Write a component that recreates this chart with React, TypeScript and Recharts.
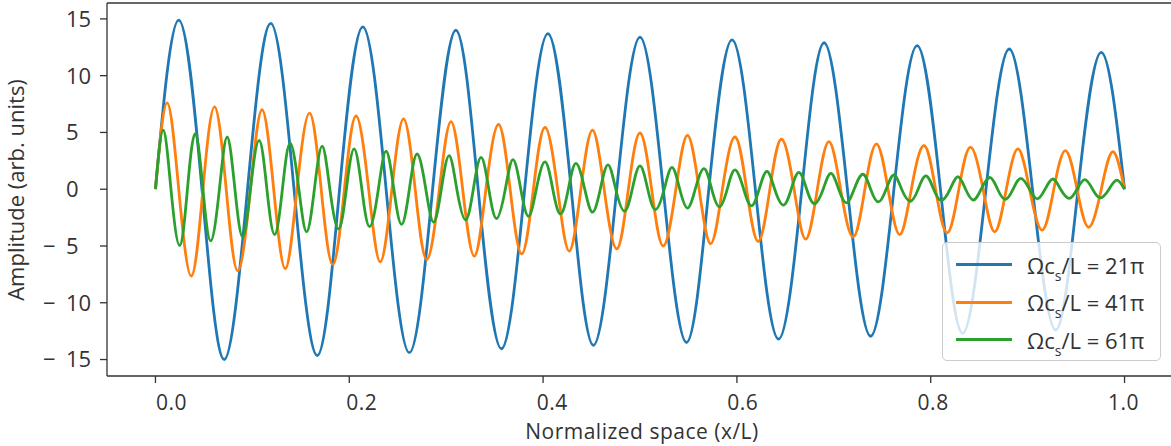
import React from 'react';
import { LineChart, Line, XAxis, YAxis, Legend, Label, ReferenceLine } from 'recharts';

// Samples at each zero crossing and each peak/trough.
const blueX = [
  0, 0.024, 0.048, 0.071, 0.095, 0.119, 0.143, 0.167, 0.190, 0.214,
  0.238, 0.262, 0.286, 0.310, 0.333, 0.357, 0.381, 0.405, 0.429, 0.452,
  0.476, 0.500, 0.524, 0.548, 0.571, 0.595, 0.619, 0.643, 0.667, 0.690,
  0.714, 0.738, 0.762, 0.786, 0.810, 0.833, 0.857, 0.881, 0.905, 0.929,
  0.952, 0.976, 1,
];
const blueY = [
  0, 14.9, 0, -15.0, 0, 14.6, 0, -14.65, 0, 14.3,
  0, -14.4, 0, 14.0, 0, -14.05, 0, 13.7, 0, -13.75,
  0, 13.4, 0, -13.5, 0, 13.15, 0, -13.2, 0, 12.9,
  0, -12.95, 0, 12.65, 0, -12.7, 0, 12.35, 0, -12.4,
  0, 12.05, 0,
];

const orangeX = [
  0, 0.012, 0.024, 0.037, 0.049, 0.061, 0.073, 0.085, 0.098, 0.110,
  0.122, 0.134, 0.146, 0.159, 0.171, 0.183, 0.195, 0.207, 0.220, 0.232,
  0.244, 0.256, 0.268, 0.280, 0.293, 0.305, 0.317, 0.329, 0.341, 0.354,
  0.366, 0.378, 0.390, 0.402, 0.415, 0.427, 0.439, 0.451, 0.463, 0.476,
  0.488, 0.500, 0.512, 0.524, 0.537, 0.549, 0.561, 0.573, 0.585, 0.598,
  0.610, 0.622, 0.634, 0.646, 0.659, 0.671, 0.683, 0.695, 0.707, 0.720,
  0.732, 0.744, 0.756, 0.768, 0.780, 0.793, 0.805, 0.817, 0.829, 0.841,
  0.854, 0.866, 0.878, 0.890, 0.902, 0.915, 0.927, 0.939, 0.951, 0.963,
  0.976, 0.988, 1,
];
const orangeY = [
  0, 7.6, 0, -7.65, 0, 7.25, 0, -7.2, 0, 7.0,
  0, -7.0, 0, 6.7, 0, -6.65, 0, 6.45, 0, -6.4,
  0, 6.2, 0, -6.2, 0, 5.95, 0, -5.9, 0, 5.7,
  0, -5.7, 0, 5.45, 0, -5.45, 0, 5.2, 0, -5.25,
  0, 4.95, 0, -5.0, 0, 4.75, 0, -4.8, 0, 4.6,
  0, -4.6, 0, 4.4, 0, -4.4, 0, 4.2, 0, -4.2,
  0, 4.0, 0, -4.0, 0, 3.85, 0, -3.85, 0, 3.7,
  0, -3.75, 0, 3.55, 0, -3.6, 0, 3.4, 0, -3.35,
  0, 3.3, 0,
];

const greenX = [
  0, 0.008, 0.016, 0.025, 0.033, 0.041, 0.049, 0.057, 0.066, 0.074,
  0.082, 0.090, 0.098, 0.107, 0.115, 0.123, 0.131, 0.139, 0.148, 0.156,
  0.164, 0.172, 0.180, 0.189, 0.197, 0.205, 0.213, 0.221, 0.230, 0.238,
  0.246, 0.254, 0.262, 0.270, 0.279, 0.287, 0.295, 0.303, 0.311, 0.320,
  0.328, 0.336, 0.344, 0.352, 0.361, 0.369, 0.377, 0.385, 0.393, 0.402,
  0.410, 0.418, 0.426, 0.434, 0.443, 0.451, 0.459, 0.467, 0.475, 0.484,
  0.492, 0.500, 0.508, 0.516, 0.525, 0.533, 0.541, 0.549, 0.557, 0.566,
  0.574, 0.582, 0.590, 0.598, 0.607, 0.615, 0.623, 0.631, 0.639, 0.648,
  0.656, 0.664, 0.672, 0.680, 0.689, 0.697, 0.705, 0.713, 0.721, 0.730,
  0.738, 0.746, 0.754, 0.762, 0.770, 0.779, 0.787, 0.795, 0.803, 0.811,
  0.820, 0.828, 0.836, 0.844, 0.852, 0.861, 0.869, 0.877, 0.885, 0.893,
  0.902, 0.910, 0.918, 0.926, 0.934, 0.943, 0.951, 0.959, 0.967, 0.975,
  0.984, 0.992, 1,
];
const greenY = [
  0, 5.2, 0, -4.95, 0, 4.9, 0, -4.55, 0, 4.6,
  0, -4.2, 0, 4.3, 0, -4.0, 0, 4.05, 0, -3.75,
  0, 3.8, 0, -3.5, 0, 3.55, 0, -3.3, 0, 3.35,
  0, -3.1, 0, 3.1, 0, -2.9, 0, 2.95, 0, -2.7,
  0, 2.8, 0, -2.58, 0, 2.6, 0, -2.38, 0, 2.4,
  0, -2.18, 0, 2.27, 0, -2.02, 0, 2.15, 0, -1.93,
  0, 2.05, 0, -1.8, 0, 1.92, 0, -1.66, 0, 1.82,
  0, -1.56, 0, 1.7, 0, -1.47, 0, 1.57, 0, -1.4,
  0, 1.48, 0, -1.28, 0, 1.4, 0, -1.2, 0, 1.32,
  0, -1.12, 0, 1.25, 0, -1.06, 0, 1.18, 0, -1.0,
  0, 1.1, 0, -0.95, 0, 1.03, 0, -0.9, 0, 0.96,
  0, -0.85, 0, 0.9, 0, -0.8, 0, 0.84, 0, -0.76,
  0, 0.8, 0,
];

const xTicks = [0, 0.2, 0.4, 0.6, 0.8, 1.0];
const yTicks = [-15, -10, -5, 0, 5, 10, 15];
const legendValues = ['21π', '41π', '61π'];

const X_DOMAIN = [-0.05, 1.05];
const Y_DOMAIN = [-16.45, 16.4];

const COLORS = ['#1f77b4', '#ff7f0e', '#2ca02c'];
const FONT = '"Open Sans", "Noto Sans", sans-serif';
const TEXT = '#333333';
const AXIS = '#333333';

const toPoints = (xs: number[], ys: number[]) => xs.map((x, i) => ({ x, y: ys[i] }));

const series = [
  toPoints(blueX, blueY),
  toPoints(orangeX, orangeY),
  toPoints(greenX, greenY),
];

const XTick = (props: any) => {
  const v = props.payload.value;
  return (
    <text x={props.x + 16 - 17 * v} y={props.y + 27} textAnchor="middle"
      fontFamily={FONT} fontSize={21} letterSpacing={0.5} fill={TEXT}>
      {v.toFixed(1)}
    </text>
  );
};

const YTick = (props: any) => {
  const v = props.payload.value;
  return (
    <g fontFamily={FONT} fontSize={22} fill={TEXT}>
      {v < 0 && <text x={props.x - 57} y={props.y} dy="0.36em">−</text>}
      <text x={props.x - 34} y={props.y} dy="0.36em">{Math.abs(v)}</text>
    </g>
  );
};

const XLabel = () => (
  <text x={642} y={439} textAnchor="middle" fontFamily={FONT} fontSize={21}
    letterSpacing={0.5} fill={TEXT}>
    Normalized space (x/L)
  </text>
);

const YLabel = () => (
  <text x={23.5} y={190} transform="rotate(-90, 23.5, 190)" textAnchor="middle"
    fontFamily={FONT} fontSize={22} fill={TEXT}>
    Amplitude (arb. units)
  </text>
);

const LegendBox = () => (
  <div style={{
    width: 219, height: 119, boxSizing: 'border-box', paddingTop: 3,
    background: 'rgba(255,255,255,0.8)', border: '1px solid #cccccc', borderRadius: 5,
    fontFamily: FONT, fontSize: 22, color: TEXT,
  }}>
    {legendValues.map((val, i) => (
      <div key={val} style={{ height: 37.5, display: 'flex', alignItems: 'center' }}>
        <div style={{ marginLeft: 13, width: 56, height: 3, background: COLORS[i] }} />
        <span style={{ marginLeft: 15, lineHeight: 1, whiteSpace: 'nowrap' }}>
          Ωc<sub style={{ fontSize: 14, verticalAlign: -7, lineHeight: 0 }}>s</sub>/L = {val}
        </span>
      </div>
    ))}
  </div>
);

export default function App() {
  return (
    <div style={{ position: 'absolute', left: 0, top: 0, width: 1171, height: 446, overflow: 'hidden', background: '#fff' }}>
      <LineChart width={1180} height={446} margin={{ top: 3, right: 7, bottom: 2, left: 7 }}>
        <XAxis dataKey="x" type="number" domain={X_DOMAIN} ticks={xTicks}
          height={68} tickSize={7} tickMargin={0} tick={<XTick />}
          axisLine={{ stroke: AXIS, strokeWidth: 1.3 }} tickLine={{ stroke: AXIS, strokeWidth: 1.3 }}
          label={<Label content={<XLabel />} />} />
        <YAxis type="number" domain={Y_DOMAIN} ticks={yTicks} width={100}
          tickSize={7} tickMargin={0} tick={<YTick />}
          axisLine={{ stroke: AXIS, strokeWidth: 1.3 }} tickLine={{ stroke: AXIS, strokeWidth: 1.3 }}
          label={<Label content={<YLabel />} />} />
        {/* top spine of the frame */}
        <ReferenceLine y={Y_DOMAIN[1]} stroke={AXIS} strokeWidth={1.6} />
        {series.map((pts, i) => (
          <Line key={i} data={pts} dataKey="y" type="natural" stroke={COLORS[i]}
            strokeWidth={2.8} dot={false} isAnimationActive={false} />
        ))}
        <Legend layout="vertical" align="center" verticalAlign="middle" content={<LegendBox />}
          wrapperStyle={{ left: 942, top: 242, width: 219 }} />
      </LineChart>
    </div>
  );
}
